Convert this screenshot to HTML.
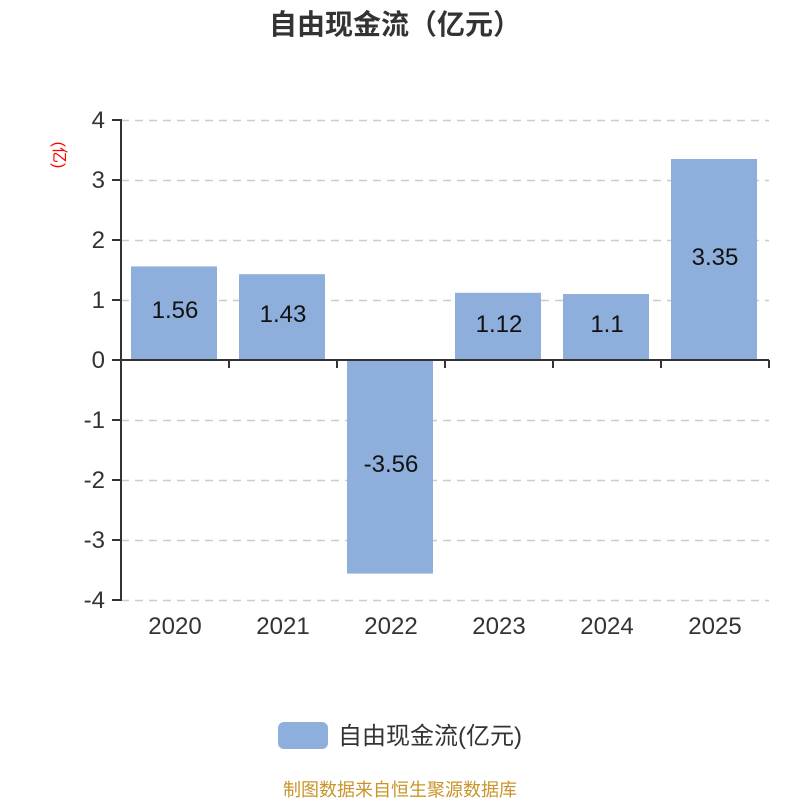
<!DOCTYPE html>
<html><head><meta charset="utf-8"><style>body{margin:0;background:#fff}svg{display:block}</style></head><body>
<svg width="800" height="800" xmlns="http://www.w3.org/2000/svg" font-family="Liberation Sans, Noto Sans CJK SC, sans-serif">
<rect width="800" height="800" fill="#fff"/>
<text x="395" y="34" text-anchor="middle" font-size="28" font-weight="bold" fill="#333">自由现金流（亿元）</text>
<text transform="translate(54,155) rotate(90)" text-anchor="middle" font-size="16" fill="#f00">(亿)</text>
<g stroke="#ccc" stroke-dasharray="8,6" stroke-width="1.5">
<line x1="121" y1="120.5" x2="769" y2="120.5"/><line x1="121" y1="180.5" x2="769" y2="180.5"/>
<line x1="121" y1="240.5" x2="769" y2="240.5"/><line x1="121" y1="300.5" x2="769" y2="300.5"/>
<line x1="121" y1="420.5" x2="769" y2="420.5"/><line x1="121" y1="480.5" x2="769" y2="480.5"/>
<line x1="121" y1="540.5" x2="769" y2="540.5"/><line x1="121" y1="600.5" x2="769" y2="600.5"/>
</g>
<g fill="#8eaedb">
<rect x="131" y="266.4" width="86" height="93.6"/>
<rect x="239" y="274.2" width="86" height="85.8"/>
<rect x="347" y="360" width="86" height="213.6"/>
<rect x="455" y="292.8" width="86" height="67.2"/>
<rect x="563" y="294" width="86" height="66"/>
<rect x="671" y="159" width="86" height="201"/>
</g>
<g stroke="#333" stroke-width="2">
<line x1="121" y1="119" x2="121" y2="601"/>
<line x1="121" y1="360" x2="769" y2="360"/>
<line x1="112" y1="120" x2="121" y2="120"/><line x1="112" y1="180" x2="121" y2="180"/>
<line x1="112" y1="240" x2="121" y2="240"/><line x1="112" y1="300" x2="121" y2="300"/>
<line x1="112" y1="360" x2="121" y2="360"/><line x1="112" y1="420" x2="121" y2="420"/>
<line x1="112" y1="480" x2="121" y2="480"/><line x1="112" y1="540" x2="121" y2="540"/>
<line x1="112" y1="600" x2="121" y2="600"/>
<line x1="229" y1="360" x2="229" y2="368"/><line x1="337" y1="360" x2="337" y2="368"/>
<line x1="445" y1="360" x2="445" y2="368"/><line x1="553" y1="360" x2="553" y2="368"/>
<line x1="661" y1="360" x2="661" y2="368"/><line x1="769" y1="360" x2="769" y2="368"/>
</g>
<g font-size="24" fill="#333" text-anchor="end">
<text x="105" y="128">4</text><text x="105" y="188">3</text><text x="105" y="248">2</text>
<text x="105" y="308">1</text><text x="105" y="368">0</text><text x="105" y="428">-1</text>
<text x="105" y="488">-2</text><text x="105" y="548">-3</text><text x="105" y="608">-4</text>
</g>
<g font-size="24" fill="#333" text-anchor="middle">
<text x="175" y="634">2020</text><text x="283" y="634">2021</text><text x="391" y="634">2022</text>
<text x="499" y="634">2023</text><text x="607" y="634">2024</text><text x="715" y="634">2025</text>
</g>
<g font-size="24" fill="#111" text-anchor="middle">
<text x="175" y="318">1.56</text><text x="283" y="322">1.43</text><text x="391" y="472">-3.56</text>
<text x="499" y="332">1.12</text><text x="607" y="332">1.1</text><text x="715" y="265">3.35</text>
</g>
<rect x="278" y="722" width="50" height="27" rx="6" fill="#8eaedb"/>
<text x="338" y="744" font-size="24" fill="#333">自由现金流(亿元)</text>
<text x="400" y="796" text-anchor="middle" font-size="18" fill="#c8952a">制图数据来自恒生聚源数据库</text>
</svg>
</body></html>
